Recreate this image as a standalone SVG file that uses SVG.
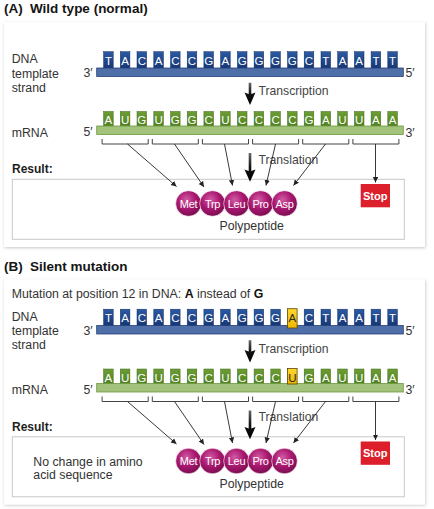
<svg xmlns="http://www.w3.org/2000/svg" width="434" height="509" viewBox="0 0 434 509">
<style>
text{font-family:"Liberation Sans",Arial,sans-serif}
.title{font-size:13.5px;font-weight:bold;fill:#151515}
.lbl{font-size:12.3px;fill:#333}
.res{font-size:12px;font-weight:bold;fill:#1e1e1e}
.proc{font-size:12.2px;fill:#444}
.card{fill:#fff;filter:url(#shadow)}
.resbox{fill:#fff;stroke:#c8c8c8;stroke-width:1}
.dbar{fill:#4f6fa9;stroke:#263f78;stroke-width:0.8}
.rbar{fill:#a3c27c;stroke:#6c9a40;stroke-width:0.8}
.dbox{fill:url(#gDna);stroke:#0f2c62;stroke-width:0.5}
.rbox{fill:url(#gRna);stroke:#3d6a18;stroke-width:0.5}
.mbox{fill:url(#gMut);stroke:#5a4600;stroke-width:0.8}
.nt{font-size:11.5px;fill:#fff;text-anchor:middle}
.ntm{font-size:11.5px;fill:#2a2a2a;text-anchor:middle}
.br{fill:none;stroke:#444;stroke-width:1}
.thin{fill:none;stroke:#222;stroke-width:0.9;marker-end:url(#ah)}
.thick{fill:url(#gArrow)}
.ball{fill:url(#gBall);stroke:#fff;stroke-width:0.6}
.aa{font-size:11px;fill:#fff;text-anchor:middle;letter-spacing:-0.3px}
.stop{fill:#dc1f2b}
.stoptxt{font-size:11.1px;font-weight:bold;fill:#fff;text-anchor:middle}
.poly{font-size:12.3px;fill:#333;text-anchor:middle}
</style>
<defs>
<filter id="shadow" x="-5%" y="-5%" width="110%" height="115%">
<feDropShadow dx="0.6" dy="1" stdDeviation="1.6" flood-color="#000" flood-opacity="0.22"/>
</filter>
<linearGradient id="gDna" x1="0" y1="0" x2="0" y2="1">
<stop offset="0" stop-color="#2c5aa3"/><stop offset="1" stop-color="#143370"/>
</linearGradient>
<linearGradient id="gRna" x1="0" y1="0" x2="0" y2="1">
<stop offset="0" stop-color="#6d9e34"/><stop offset="1" stop-color="#4d7d20"/>
</linearGradient>
<linearGradient id="gMut" x1="0" y1="0" x2="0" y2="1">
<stop offset="0" stop-color="#ffd630"/><stop offset="1" stop-color="#efb800"/>
</linearGradient>
<linearGradient id="gArrow" x1="0" y1="0" x2="0" y2="1">
<stop offset="0" stop-color="#666"/><stop offset="0.5" stop-color="#111"/><stop offset="1" stop-color="#000"/>
</linearGradient>
<radialGradient id="gBall" cx="0.42" cy="0.35" r="0.65">
<stop offset="0" stop-color="#d45aa4"/><stop offset="0.55" stop-color="#a8186f"/><stop offset="1" stop-color="#7c0d52"/>
</radialGradient>
<marker id="ah" markerWidth="6" markerHeight="6" refX="5.5" refY="2.7" orient="auto" markerUnits="userSpaceOnUse">
<path d="M0,0 L5.5,2.7 L0,5.4 z" fill="#222"/>
</marker>
</defs>

<rect width="434" height="509" fill="#fff"/>

<!-- ================= PANEL A ================= -->
<g id="panelA">
<text class="title" x="4" y="13.2">(A)<tspan x="30">Wild type (normal)</tspan></text>
<rect class="card" x="4" y="22" width="421" height="225"/>

<g id="A-labels">
<text class="lbl" x="11.7" y="63.3">DNA</text>
<text class="lbl" x="11.7" y="77.5">template</text>
<text class="lbl" x="11.7" y="91.7">strand</text>
<text class="lbl" x="11.7" y="136.5">mRNA</text>
<text class="res" x="12" y="173.3">Result:</text>
</g>

<g id="A-dna">
<rect class="dbox" x="103.6" y="51.7" width="9.6" height="18"/>
<rect class="dbox" x="120.3" y="51.7" width="9.6" height="18"/>
<rect class="dbox" x="137.0" y="51.7" width="9.6" height="18"/>
<rect class="dbox" x="153.8" y="51.7" width="9.6" height="18"/>
<rect class="dbox" x="170.5" y="51.7" width="9.6" height="18"/>
<rect class="dbox" x="187.2" y="51.7" width="9.6" height="18"/>
<rect class="dbox" x="203.9" y="51.7" width="9.6" height="18"/>
<rect class="dbox" x="220.6" y="51.7" width="9.6" height="18"/>
<rect class="dbox" x="237.4" y="51.7" width="9.6" height="18"/>
<rect class="dbox" x="254.1" y="51.7" width="9.6" height="18"/>
<rect class="dbox" x="270.8" y="51.7" width="9.6" height="18"/>
<rect class="dbox" x="287.5" y="51.7" width="9.6" height="18"/>
<rect class="dbox" x="304.2" y="51.7" width="9.6" height="18"/>
<rect class="dbox" x="321.0" y="51.7" width="9.6" height="18"/>
<rect class="dbox" x="337.7" y="51.7" width="9.6" height="18"/>
<rect class="dbox" x="354.4" y="51.7" width="9.6" height="18"/>
<rect class="dbox" x="371.1" y="51.7" width="9.6" height="18"/>
<rect class="dbox" x="387.8" y="51.7" width="9.6" height="18"/>
<rect class="dbar" x="96.7" y="68" width="306.6" height="8.5"/>
<text class="nt" x="108.4" y="64.5">T</text>
<text class="nt" x="125.1" y="64.5">A</text>
<text class="nt" x="141.8" y="64.5">C</text>
<text class="nt" x="158.6" y="64.5">A</text>
<text class="nt" x="175.3" y="64.5">C</text>
<text class="nt" x="192.0" y="64.5">C</text>
<text class="nt" x="208.7" y="64.5">G</text>
<text class="nt" x="225.4" y="64.5">A</text>
<text class="nt" x="242.2" y="64.5">G</text>
<text class="nt" x="258.9" y="64.5">G</text>
<text class="nt" x="275.6" y="64.5">G</text>
<text class="nt" x="292.3" y="64.5">G</text>
<text class="nt" x="309.0" y="64.5">C</text>
<text class="nt" x="325.8" y="64.5">T</text>
<text class="nt" x="342.5" y="64.5">A</text>
<text class="nt" x="359.2" y="64.5">A</text>
<text class="nt" x="375.9" y="64.5">T</text>
<text class="nt" x="392.6" y="64.5">T</text>
<text class="lbl" x="83.5" y="77.3">3′</text>
<text class="lbl" x="405.5" y="77.3">5′</text>
</g>

<g id="A-mrna">
<rect class="rbox" x="103.6" y="111.5" width="9.6" height="16"/>
<rect class="rbox" x="120.3" y="111.5" width="9.6" height="16"/>
<rect class="rbox" x="137.0" y="111.5" width="9.6" height="16"/>
<rect class="rbox" x="153.8" y="111.5" width="9.6" height="16"/>
<rect class="rbox" x="170.5" y="111.5" width="9.6" height="16"/>
<rect class="rbox" x="187.2" y="111.5" width="9.6" height="16"/>
<rect class="rbox" x="203.9" y="111.5" width="9.6" height="16"/>
<rect class="rbox" x="220.6" y="111.5" width="9.6" height="16"/>
<rect class="rbox" x="237.4" y="111.5" width="9.6" height="16"/>
<rect class="rbox" x="254.1" y="111.5" width="9.6" height="16"/>
<rect class="rbox" x="270.8" y="111.5" width="9.6" height="16"/>
<rect class="rbox" x="287.5" y="111.5" width="9.6" height="16"/>
<rect class="rbox" x="304.2" y="111.5" width="9.6" height="16"/>
<rect class="rbox" x="321.0" y="111.5" width="9.6" height="16"/>
<rect class="rbox" x="337.7" y="111.5" width="9.6" height="16"/>
<rect class="rbox" x="354.4" y="111.5" width="9.6" height="16"/>
<rect class="rbox" x="371.1" y="111.5" width="9.6" height="16"/>
<rect class="rbox" x="387.8" y="111.5" width="9.6" height="16"/>
<rect class="rbar" x="96.7" y="126" width="306.6" height="8.5"/>
<text class="nt" x="108.4" y="124.3">A</text>
<text class="nt" x="125.1" y="124.3">U</text>
<text class="nt" x="141.8" y="124.3">G</text>
<text class="nt" x="158.6" y="124.3">U</text>
<text class="nt" x="175.3" y="124.3">G</text>
<text class="nt" x="192.0" y="124.3">G</text>
<text class="nt" x="208.7" y="124.3">C</text>
<text class="nt" x="225.4" y="124.3">U</text>
<text class="nt" x="242.2" y="124.3">C</text>
<text class="nt" x="258.9" y="124.3">C</text>
<text class="nt" x="275.6" y="124.3">C</text>
<text class="nt" x="292.3" y="124.3">C</text>
<text class="nt" x="309.0" y="124.3">G</text>
<text class="nt" x="325.8" y="124.3">A</text>
<text class="nt" x="342.5" y="124.3">U</text>
<text class="nt" x="359.2" y="124.3">U</text>
<text class="nt" x="375.9" y="124.3">A</text>
<text class="nt" x="392.6" y="124.3">A</text>
<text class="lbl" x="83.5" y="136.3">5′</text>
<text class="lbl" x="405.5" y="136.5">3′</text>
</g>

<rect id="A-result" class="resbox" x="12.3" y="179.3" width="392" height="60"/>

<g id="A-connectors">
<path class="br" d="M102.1,139V144H148.2V139"/>
<path class="br" d="M152.3,139V144H198.3V139"/>
<path class="br" d="M202.4,139V144H248.5V139"/>
<path class="br" d="M252.6,139V144H298.6V139"/>
<path class="br" d="M302.7,139V144H348.8V139"/>
<path class="br" d="M352.9,139V144H398.9V139"/>
<text class="proc" x="258.5" y="95">Transcription</text>
<text class="proc" x="258.5" y="163.5">Translation</text>
<path class="thick" d="M248.7,82.7H251.3V94L255.5,92.5L250,105L244.5,92.5L248.7,94Z"/>
<path class="thick" d="M248.7,153H251.3V171L255.5,169.5L250,181.7L244.5,169.5L248.7,171Z"/>
<path class="thin" d="M127.5,144L176.5,186.5"/>
<path class="thin" d="M174.5,144L204,187"/>
<path class="thin" d="M224.5,144L232.5,185.5"/>
<path class="thin" d="M275.5,144L266,185.5"/>
<path class="thin" d="M325.5,144L293.5,185.5"/>
<path class="thin" d="M375.5,144V182.5"/>
</g>

<g id="A-polypeptide">
<circle class="ball" cx="188.5" cy="203.5" r="12.8"/>
<circle class="ball" cx="212.5" cy="203.5" r="12.8"/>
<circle class="ball" cx="236.5" cy="203.5" r="12.8"/>
<circle class="ball" cx="260.5" cy="203.5" r="12.8"/>
<circle class="ball" cx="284.5" cy="203.5" r="12.8"/>
<text class="aa" x="188.5" y="207.5">Met</text>
<text class="aa" x="212.5" y="207.5">Trp</text>
<text class="aa" x="236.5" y="207.5">Leu</text>
<text class="aa" x="260.5" y="207.5">Pro</text>
<text class="aa" x="284.5" y="207.5">Asp</text>
<text class="poly" x="251.7" y="230">Polypeptide</text>
</g>

<g id="A-stop">
<rect class="stop" x="360.7" y="184" width="29.3" height="23.3"/>
<text class="stoptxt" x="375.3" y="199.5">Stop</text>
</g>
</g>

<!-- ================= PANEL B ================= -->
<g id="panelB" transform="translate(0,257.5)">
<text class="title" x="4" y="13.2">(B)<tspan x="30">Silent mutation</tspan></text>
<rect class="card" x="4" y="22" width="421" height="225"/>

<g id="B-labels">
<text class="lbl" x="11.7" y="40.8">Mutation at position 12 in DNA: <tspan font-weight="bold" fill="#111">A</tspan> instead of <tspan font-weight="bold" fill="#111">G</tspan></text>
<text class="lbl" x="11.7" y="63.3">DNA</text>
<text class="lbl" x="11.7" y="77.5">template</text>
<text class="lbl" x="11.7" y="91.7">strand</text>
<text class="lbl" x="11.7" y="136.5">mRNA</text>
<text class="res" x="12" y="173.3">Result:</text>
</g>

<g id="B-dna">
<rect class="dbox" x="103.6" y="51.7" width="9.6" height="18"/>
<rect class="dbox" x="120.3" y="51.7" width="9.6" height="18"/>
<rect class="dbox" x="137.0" y="51.7" width="9.6" height="18"/>
<rect class="dbox" x="153.8" y="51.7" width="9.6" height="18"/>
<rect class="dbox" x="170.5" y="51.7" width="9.6" height="18"/>
<rect class="dbox" x="187.2" y="51.7" width="9.6" height="18"/>
<rect class="dbox" x="203.9" y="51.7" width="9.6" height="18"/>
<rect class="dbox" x="220.6" y="51.7" width="9.6" height="18"/>
<rect class="dbox" x="237.4" y="51.7" width="9.6" height="18"/>
<rect class="dbox" x="254.1" y="51.7" width="9.6" height="18"/>
<rect class="dbox" x="270.8" y="51.7" width="9.6" height="18"/>
<rect class="dbox" x="304.2" y="51.7" width="9.6" height="18"/>
<rect class="dbox" x="321.0" y="51.7" width="9.6" height="18"/>
<rect class="dbox" x="337.7" y="51.7" width="9.6" height="18"/>
<rect class="dbox" x="354.4" y="51.7" width="9.6" height="18"/>
<rect class="dbox" x="371.1" y="51.7" width="9.6" height="18"/>
<rect class="dbox" x="387.8" y="51.7" width="9.6" height="18"/>
<rect class="dbar" x="96.7" y="68" width="306.6" height="8.5"/>
<rect class="mbox" x="287.5" y="51.2" width="9.6" height="19.3"/>
<text class="nt" x="108.4" y="64.5">T</text>
<text class="nt" x="125.1" y="64.5">A</text>
<text class="nt" x="141.8" y="64.5">C</text>
<text class="nt" x="158.6" y="64.5">A</text>
<text class="nt" x="175.3" y="64.5">C</text>
<text class="nt" x="192.0" y="64.5">C</text>
<text class="nt" x="208.7" y="64.5">G</text>
<text class="nt" x="225.4" y="64.5">A</text>
<text class="nt" x="242.2" y="64.5">G</text>
<text class="nt" x="258.9" y="64.5">G</text>
<text class="nt" x="275.6" y="64.5">G</text>
<text class="ntm" x="292.3" y="64.5">A</text>
<text class="nt" x="309.0" y="64.5">C</text>
<text class="nt" x="325.8" y="64.5">T</text>
<text class="nt" x="342.5" y="64.5">A</text>
<text class="nt" x="359.2" y="64.5">A</text>
<text class="nt" x="375.9" y="64.5">T</text>
<text class="nt" x="392.6" y="64.5">T</text>
<text class="lbl" x="83.5" y="77.3">3′</text>
<text class="lbl" x="405.5" y="77.3">5′</text>
</g>

<g id="B-mrna">
<rect class="rbox" x="103.6" y="111.5" width="9.6" height="16"/>
<rect class="rbox" x="120.3" y="111.5" width="9.6" height="16"/>
<rect class="rbox" x="137.0" y="111.5" width="9.6" height="16"/>
<rect class="rbox" x="153.8" y="111.5" width="9.6" height="16"/>
<rect class="rbox" x="170.5" y="111.5" width="9.6" height="16"/>
<rect class="rbox" x="187.2" y="111.5" width="9.6" height="16"/>
<rect class="rbox" x="203.9" y="111.5" width="9.6" height="16"/>
<rect class="rbox" x="220.6" y="111.5" width="9.6" height="16"/>
<rect class="rbox" x="237.4" y="111.5" width="9.6" height="16"/>
<rect class="rbox" x="254.1" y="111.5" width="9.6" height="16"/>
<rect class="rbox" x="270.8" y="111.5" width="9.6" height="16"/>
<rect class="rbox" x="304.2" y="111.5" width="9.6" height="16"/>
<rect class="rbox" x="321.0" y="111.5" width="9.6" height="16"/>
<rect class="rbox" x="337.7" y="111.5" width="9.6" height="16"/>
<rect class="rbox" x="354.4" y="111.5" width="9.6" height="16"/>
<rect class="rbox" x="371.1" y="111.5" width="9.6" height="16"/>
<rect class="rbox" x="387.8" y="111.5" width="9.6" height="16"/>
<rect class="rbar" x="96.7" y="126" width="306.6" height="8.5"/>
<rect class="mbox" x="287.5" y="111" width="9.6" height="15.5"/>
<text class="nt" x="108.4" y="124.3">A</text>
<text class="nt" x="125.1" y="124.3">U</text>
<text class="nt" x="141.8" y="124.3">G</text>
<text class="nt" x="158.6" y="124.3">U</text>
<text class="nt" x="175.3" y="124.3">G</text>
<text class="nt" x="192.0" y="124.3">G</text>
<text class="nt" x="208.7" y="124.3">C</text>
<text class="nt" x="225.4" y="124.3">U</text>
<text class="nt" x="242.2" y="124.3">C</text>
<text class="nt" x="258.9" y="124.3">C</text>
<text class="nt" x="275.6" y="124.3">C</text>
<text class="ntm" x="292.3" y="124.3">U</text>
<text class="nt" x="309.0" y="124.3">G</text>
<text class="nt" x="325.8" y="124.3">A</text>
<text class="nt" x="342.5" y="124.3">U</text>
<text class="nt" x="359.2" y="124.3">U</text>
<text class="nt" x="375.9" y="124.3">A</text>
<text class="nt" x="392.6" y="124.3">A</text>
<text class="lbl" x="83.5" y="136.3">5′</text>
<text class="lbl" x="405.5" y="136.5">3′</text>
</g>

<rect id="B-result" class="resbox" x="12.3" y="179.3" width="392" height="60"/>

<g id="B-connectors">
<path class="br" d="M102.1,139V144H148.2V139"/>
<path class="br" d="M152.3,139V144H198.3V139"/>
<path class="br" d="M202.4,139V144H248.5V139"/>
<path class="br" d="M252.6,139V144H298.6V139"/>
<path class="br" d="M302.7,139V144H348.8V139"/>
<path class="br" d="M352.9,139V144H398.9V139"/>
<text class="proc" x="258.5" y="95">Transcription</text>
<text class="proc" x="258.5" y="163.5">Translation</text>
<path class="thick" d="M248.7,82.7H251.3V94L255.5,92.5L250,105L244.5,92.5L248.7,94Z"/>
<path class="thick" d="M248.7,153H251.3V171L255.5,169.5L250,181.7L244.5,169.5L248.7,171Z"/>
<path class="thin" d="M127.5,144L176.5,186.5"/>
<path class="thin" d="M174.5,144L204,187"/>
<path class="thin" d="M224.5,144L232.5,185.5"/>
<path class="thin" d="M275.5,144L266,185.5"/>
<path class="thin" d="M325.5,144L293.5,185.5"/>
<path class="thin" d="M375.5,144V182.5"/>
</g>

<g id="B-note">
<text class="lbl" x="33.3" y="208.5">No change in amino</text>
<text class="lbl" x="33.3" y="221.5">acid sequence</text>
</g>

<g id="B-polypeptide">
<circle class="ball" cx="188.5" cy="203.5" r="12.8"/>
<circle class="ball" cx="212.5" cy="203.5" r="12.8"/>
<circle class="ball" cx="236.5" cy="203.5" r="12.8"/>
<circle class="ball" cx="260.5" cy="203.5" r="12.8"/>
<circle class="ball" cx="284.5" cy="203.5" r="12.8"/>
<text class="aa" x="188.5" y="207.5">Met</text>
<text class="aa" x="212.5" y="207.5">Trp</text>
<text class="aa" x="236.5" y="207.5">Leu</text>
<text class="aa" x="260.5" y="207.5">Pro</text>
<text class="aa" x="284.5" y="207.5">Asp</text>
<text class="poly" x="251.7" y="230">Polypeptide</text>
</g>

<g id="B-stop">
<rect class="stop" x="360.7" y="184" width="29.3" height="23.3"/>
<text class="stoptxt" x="375.3" y="199.5">Stop</text>
</g>
</g>
</svg>
